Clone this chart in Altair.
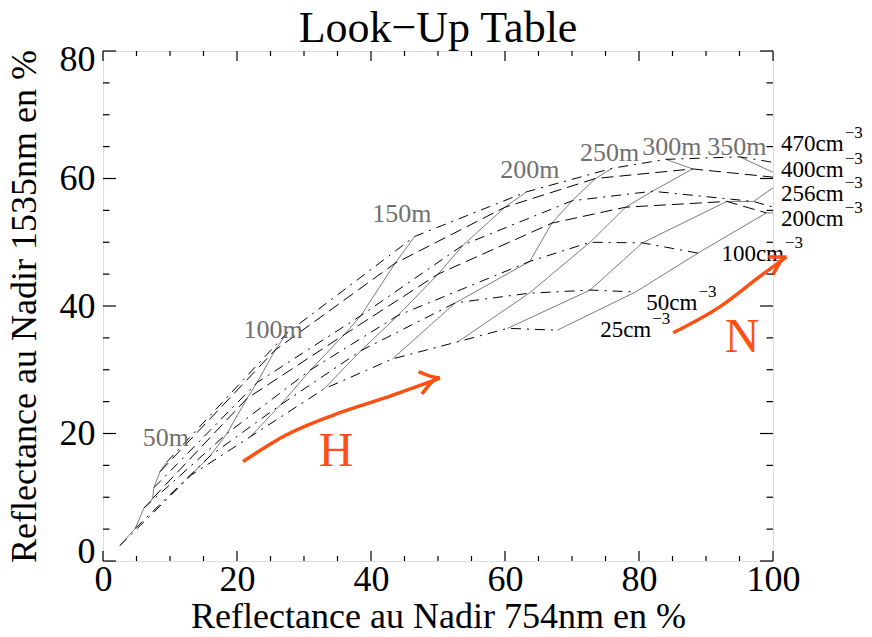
import altair as alt
import pandas as pd

FONT = "Liberation Serif"
ORANGE = "#ff4f12"

# cloud geometrical thickness (m) and droplet concentration (cm-3)
heights_m = [50, 100, 150, 200, 250, 300, 350, 400]
conc_cm3 = [25, 50, 100, 200, 256, 400, 470]

# reflectance at 754 nm (x) and 1535 nm (y), one list per concentration, along heights
r754_N25 = [2.5, 13.2, 22.0, 33.0, 43.2, 53.0, 60.4, 67.8]
r1535_N25 = [2.4, 13.5, 19.5, 27.0, 31.7, 34.4, 36.5, 36.2]
r754_N50 = [4.8, 16.0, 26.5, 38.5, 52.6, 63.6, 72.7, 79.5]
r1535_N50 = [5.1, 16.5, 24.5, 33.0, 40.5, 42.0, 42.5, 42.2]
r754_N100 = [6.1, 18.5, 31.0, 44.0, 63.7, 72.7, 80.5, 88.8]
r1535_N100 = [8.3, 20.0, 30.0, 38.5, 47.0, 50.0, 49.9, 48.3]
r754_N200 = [7.4, 21.5, 36.0, 50.0, 67.0, 78.0, 93.1, 99.0]
r1535_N200 = [9.8, 25.5, 35.5, 45.0, 53.0, 55.5, 56.4, 54.6]
r754_N256 = [7.6, 23.0, 38.5, 53.8, 70.0, 82.0, 97.1, 103.0]
r1535_N256 = [11.5, 28.0, 38.5, 49.6, 56.5, 58.0, 56.4, 54.6]
r754_N400 = [8.5, 25.7, 43.6, 60.0, 73.5, 88.0, 102.0, 108.0]
r1535_N400 = [14.0, 33.1, 46.7, 55.5, 60.0, 61.5, 60.0, 58.0]
r754_N470 = [9.5, 27.4, 46.5, 63.2, 76.0, 84.0, 95.0, 106.0]
r1535_N470 = [15.5, 35.7, 50.9, 57.9, 61.6, 63.0, 63.4, 61.5]

r754 = [r754_N25, r754_N50, r754_N100, r754_N200, r754_N256, r754_N400, r754_N470]
r1535 = [r1535_N25, r1535_N50, r1535_N100, r1535_N200, r1535_N256, r1535_N400, r1535_N470]

# line style of each concentration curve
n_style = ["dashdot", "dashdot", "dashdot", "dash", "dashdot", "dash", "dashdot"]

# labels
chart_title = "Look\u2212Up Table"
hlabel_text = ["50m", "100m", "150m", "200m", "250m", "300m", "350m"]
hlabel_x = [9.4, 25.4, 44.6, 63.7, 75.6, 84.9, 94.6]
hlabel_y = [19.3, 36.2, 54.4, 61.3, 64.0, 64.9, 64.9]

nlabel_text = ["470cm", "400cm", "256cm", "200cm", "100cm", "50cm", "25cm"]
nlabel_x = [101.2, 101.2, 101.2, 101.2, 92.3, 81.1, 74.2]
nlabel_y = [65.4, 61.4, 57.5, 53.6, 48.2, 40.4, 36.3]

# annotation arrows
arrowH_x = [20.9, 27.4, 34.4, 41.8, 50.3]
arrowH_y = [15.6, 19.8, 22.9, 25.5, 28.7]
arrowH_head_x = [47.1, 50.3, 47.6]
arrowH_head_y = [29.7, 28.7, 26.2]
arrowN_x = [85.1, 92.1, 98.0, 102.0]
arrowN_y = [35.8, 39.9, 44.6, 47.7]
arrowN_head_x = [99.3, 102.0, 100.0]
arrowN_head_y = [47.7, 47.7, 44.9]

rows = []
for i, n in enumerate(conc_cm3):
    for j, h in enumerate(heights_m):
        rows.append({"x": r754[i][j], "y": r1535[i][j], "N": n, "H": h, "i": i, "j": j,
                     "style": n_style[i]})
grid = pd.DataFrame(rows)

W, H = 670, 510
xs = alt.Scale(domain=[0, 100], nice=False, zero=False)
ys = alt.Scale(domain=[0, 80], nice=False, zero=False)

x_axis = alt.Axis(values=[0, 20, 40, 60, 80, 100], title="Reflectance au Nadir 754nm en %",
                  labelPadding=1, titlePadding=2, ticks=False, domain=False, grid=False,
                  labelFlush=False,
                  labelFont=FONT, labelFontSize=36, titleFont=FONT, titleFontSize=36,
                  titleFontWeight="normal", labelColor="black", titleColor="black")
y_axis = alt.Axis(values=[0, 20, 40, 60, 80], title="Reflectance au Nadir 1535nm en %",
                  labelPadding=8, titlePadding=16, ticks=False, domain=False, grid=False,
                  labelFlush=True, labelFlushOffset=9,
                  labelFont=FONT, labelFontSize=36, titleFont=FONT, titleFontSize=36,
                  titleFontWeight="normal", labelColor="black", titleColor="black")

X = alt.X("x:Q", scale=xs, axis=x_axis)
Y = alt.Y("y:Q", scale=ys, axis=y_axis)

h_lines = alt.Chart(grid).mark_line(color="#7c7c7c", strokeWidth=1, clip=True).encode(
    x=X, y=Y, detail="H:N", order="i:Q")
n_lines = alt.Chart(grid).mark_line(color="black", strokeWidth=1, clip=True).encode(
    x=X, y=Y, detail="N:N", order="j:Q",
    strokeDash=alt.StrokeDash("style:N", legend=None,
                              scale=alt.Scale(domain=["dashdot", "dash"],
                                              range=[[10, 6, 2, 6], [12, 6]])))

hl = pd.DataFrame({"x": hlabel_x, "y": hlabel_y, "t": hlabel_text})
h_text = alt.Chart(hl).mark_text(font=FONT, fontSize=26, color="#707070", align="center",
                                 baseline="middle").encode(x=X, y=Y, text="t:N")

layers = [h_lines, n_lines, h_text]

for t, lx, ly in zip(nlabel_text, nlabel_x, nlabel_y):
    d = pd.DataFrame({"x": [lx], "y": [ly], "t": [t], "s": ["\u22123"]})
    wpx = 23 * (0.5 * (len(t) - 2) + 0.444 + 0.778)
    layers.append(alt.Chart(d).mark_text(font=FONT, fontSize=23, color="black", align="left",
                                         baseline="middle").encode(x=X, y=Y, text="t:N"))
    layers.append(alt.Chart(d).mark_text(font=FONT, fontSize=17, color="black", align="left",
                                         baseline="middle", dx=wpx + 1, dy=-11).encode(
        x=X, y=Y, text="s:N"))

def path(xv, yv):
    return pd.DataFrame({"x": xv, "y": yv, "k": list(range(len(xv)))})

for xv, yv in [(arrowH_x, arrowH_y), (arrowH_head_x, arrowH_head_y),
               (arrowN_x, arrowN_y), (arrowN_head_x, arrowN_head_y)]:
    layers.append(alt.Chart(path(xv, yv)).mark_line(color=ORANGE, strokeWidth=3.5,
                                                  interpolate="monotone").encode(
        x=X, y=Y, order="k:Q"))

letters = pd.DataFrame({"x": [34.8, 95.4], "y": [17.1, 35.0], "t": ["H", "N"]})
layers.append(alt.Chart(letters).mark_text(font=FONT, fontSize=48, color=ORANGE,
                                           align="center", baseline="middle").encode(
    x=X, y=Y, text="t:N"))

# title as a text mark above the frame
layers.append(alt.Chart(pd.DataFrame({"t": [chart_title]})).mark_text(
    font=FONT, fontSize=44, color="black", align="center", baseline="alphabetic").encode(
    text="t:N", x=alt.value(W / 2), y=alt.value(-9)))

# inward ticks on all four sides
x_major = [0, 20, 40, 60, 80, 100]
x_minor = [v for v in range(0, 101, 5) if v % 20]
y_major = [0, 20, 40, 60, 80]
y_minor = [v for v in range(0, 81, 5) if v % 20]

def xticks(vals, ln):
    d = pd.DataFrame({"x": vals})
    b = alt.Chart(d).mark_rule(color="black", strokeWidth=1.2).encode(
        x=X, y=alt.value(H), y2=alt.value(H - ln))
    t = alt.Chart(d).mark_rule(color="black", strokeWidth=1.2).encode(
        x=X, y=alt.value(0), y2=alt.value(ln))
    return [b, t]

def yticks(vals, ln):
    d = pd.DataFrame({"y": vals})
    l = alt.Chart(d).mark_rule(color="black", strokeWidth=1.2).encode(
        y=Y, x=alt.value(0), x2=alt.value(ln))
    r = alt.Chart(d).mark_rule(color="black", strokeWidth=1.2).encode(
        y=Y, x=alt.value(W), x2=alt.value(W - ln))
    return [l, r]

layers += xticks(x_major, 10) + xticks(x_minor, 5) + yticks(y_major, 13) + yticks(y_minor, 6.5)

chart = alt.layer(*layers).properties(
    width=W, height=H,
    autosize=alt.AutoSizeParams(type="none"),
    padding={"left": 95, "top": 43, "right": 91, "bottom": 68},
).configure_view(stroke="black", strokeWidth=1.5).configure(background="white")

chart.save("out.html", embed_options={"renderer": "svg", "actions": False})
